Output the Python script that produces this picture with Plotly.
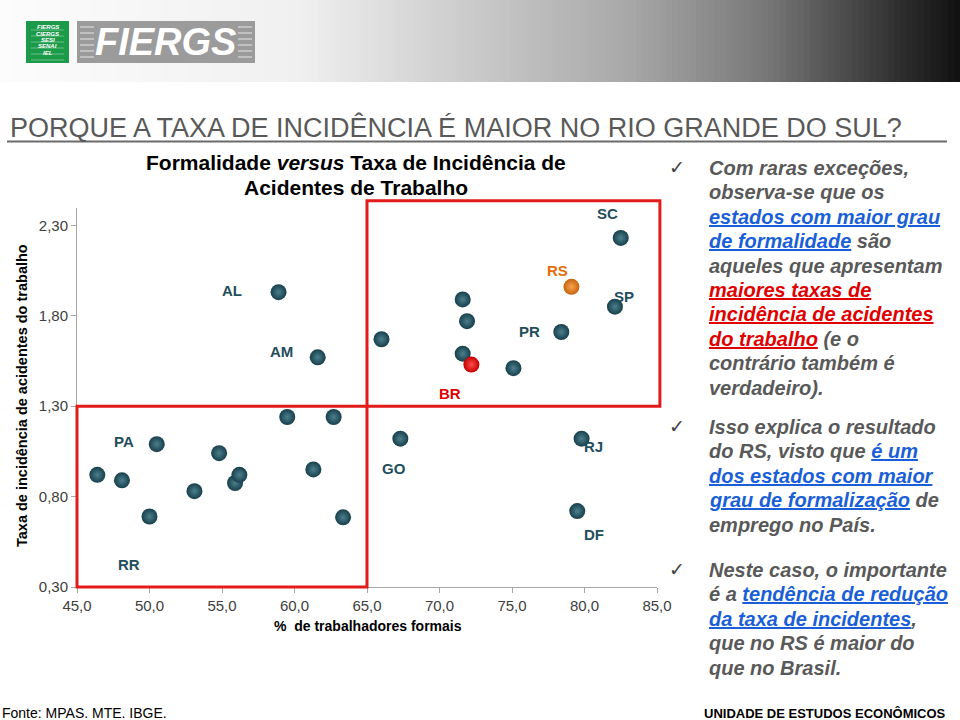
import plotly.graph_objects as go

# ---------------- data ----------------
labels = ["AL", "AM", "PA", "RR", "GO", "RJ", "DF", "SC", "RS", "SP", "PR", "BR",
          "", "", "", "", "", "", "", "", "", "", "", "", "", "", ""]
pct_formal = [58.9, 61.6, 50.5, 50.0, 67.3, 79.8, 79.5, 82.5, 79.1, 82.1, 78.4, 72.2,
              59.5, 62.7, 46.4, 48.1, 53.1, 54.8, 55.9, 56.2, 61.3, 63.35, 71.6, 71.9, 66.0, 71.6, 75.1]
taxa_acid = [1.93, 1.57, 1.09, 0.69, 1.12, 1.12, 0.72, 2.23, 1.96, 1.85, 1.71, 1.53,
             1.24, 1.24, 0.92, 0.89, 0.83, 1.04, 0.875, 0.92, 0.95, 0.685, 1.89, 1.77, 1.67, 1.59, 1.51]
x_ticks = [45, 50, 55, 60, 65, 70, 75, 80, 85]
y_ticks = [0.30, 0.80, 1.30, 1.80, 2.30]
x_split = 65.0
y_split = 1.30

# ---------------- styling ----------------
W, H = 960, 720
L, R, T, B = 77, 657, 208, 587
X_RANGE = [45, 85]
Y_RANGE = [0.30, 0.30 + (B - T) / 180.85]

def px(x):
    return (x - L) / (R - L)

def py(y):
    return (B - y) / (B - T)

def dx2p(v):
    return (v - X_RANGE[0]) / (X_RANGE[1] - X_RANGE[0])

def dy2p(v):
    return (v - Y_RANGE[0]) / (Y_RANGE[1] - Y_RANGE[0])

TEAL = "#1f4e5c"
label_shift = {"AL": (-47, 2), "AM": (-36, 6), "PA": (-33, 3), "RR": (-21, -48),
               "GO": (-6, -30), "RJ": (12, -8), "DF": (17, -23), "SC": (-13, 24),
               "RS": (-14, 16), "SP": (9, 10), "PR": (-32, 1), "BR": (-21, -29)}
label_color = {"RS": "#e46c0a", "BR": "#e00000"}

fig = go.Figure()

def sel(cond):
    idx = [i for i, lb in enumerate(labels) if cond(lb)]
    return [pct_formal[i] for i in idx], [taxa_acid[i] for i in idx]

xs, ys = sel(lambda lb: lb not in ("RS", "BR"))
fig.add_trace(go.Scatter(x=xs, y=ys, mode="markers", hoverinfo="x+y",
                         marker=dict(size=16, color="#163f4b", line=dict(width=0),
                                     gradient=dict(type="radial", color="#4d7f8d"))))
xs, ys = sel(lambda lb: lb == "RS")
fig.add_trace(go.Scatter(x=xs, y=ys, mode="markers",
                         marker=dict(size=16, color="#c8620a", line=dict(width=0),
                                     gradient=dict(type="radial", color="#f6a552"))))
xs, ys = sel(lambda lb: lb == "BR")
fig.add_trace(go.Scatter(x=xs, y=ys, mode="markers",
                         marker=dict(size=16, color="#c40000", line=dict(width=0),
                                     gradient=dict(type="radial", color="#ff4d4d"))))

ann = []
for lb, xv, yv in zip(labels, pct_formal, taxa_acid):
    if not lb:
        continue
    dx, dy = label_shift[lb]
    ann.append(dict(x=xv, y=yv, xref="x", yref="y", text="<b>%s</b>" % lb, showarrow=False,
                    xshift=dx, yshift=dy,
                    font=dict(family="Liberation Sans, Arial", size=15, color=label_color.get(lb, TEAL))))

shapes = []
# header gradient band
anchors = [(0, 252), (300, 240), (629, 168), (760, 122), (892, 51), (960, 16)]
def grey(x):
    for (x0, g0), (x1, g1) in zip(anchors[:-1], anchors[1:]):
        if x0 <= x <= x1:
            return int(round(g0 + (g1 - g0) * (x - x0) / (x1 - x0)))
    return anchors[-1][1]
step = 6
for x0 in range(0, W, step):
    g = grey(x0 + step / 2)
    c = "rgb(%d,%d,%d)" % (g, g, g)
    shapes.append(dict(type="rect", xref="paper", yref="paper", x0=px(x0), x1=px(x0 + step + 0.5),
                       y0=py(82), y1=py(0), fillcolor=c, line=dict(width=0), layer="below"))
# logo
shapes.append(dict(type="rect", xref="paper", yref="paper", x0=px(26), x1=px(69), y0=py(63), y1=py(21),
                   fillcolor="#1b9a4a", line=dict(width=0)))
shapes.append(dict(type="rect", xref="paper", yref="paper", x0=px(77), x1=px(255), y0=py(63), y1=py(21),
                   fillcolor="#9b9b9b", line=dict(width=0)))
for yy in [27, 33, 39, 45, 51, 57]:
    for a, b in [(80, 94), (238, 252)]:
        shapes.append(dict(type="line", xref="paper", yref="paper", x0=px(a), x1=px(b), y0=py(yy), y1=py(yy),
                           line=dict(color="#e6e6e6", width=1)))
for yy in [30, 36, 42, 48, 54, 60]:
    shapes.append(dict(type="line", xref="paper", yref="paper", x0=px(31), x1=px(64), y0=py(yy), y1=py(yy),
                       line=dict(color="#9fd8b0", width=0.6)))
# heading underline
shapes.append(dict(type="line", xref="paper", yref="paper", x0=px(7), x1=px(947), y0=py(141.5), y1=py(141.5),
                   line=dict(color="#6b6b6b", width=2)))
# red quadrant boxes (paper refs so they are not clipped by the plot area)
RED = "#e41b1b"
shapes.append(dict(type="rect", xref="paper", yref="paper", x0=dx2p(X_RANGE[0]), x1=dx2p(x_split),
                   y0=dy2p(Y_RANGE[0]), y1=dy2p(y_split), line=dict(color=RED, width=3), layer="above"))
shapes.append(dict(type="rect", xref="paper", yref="paper", x0=dx2p(x_split), x1=dx2p(X_RANGE[1] + 0.2),
                   y0=dy2p(y_split), y1=dy2p(Y_RANGE[1] + 0.04), line=dict(color=RED, width=3), layer="above"))

def text(xp, yp, s, size, color="#000", anchor="left", family="Liberation Sans, Arial", weight="normal",
         style="normal", angle=0):
    ann.append(dict(x=px(xp), y=py(yp), xref="paper", yref="paper", text=s, showarrow=False,
                    xanchor=anchor, yanchor="middle", textangle=angle,
                    font=dict(family=family, size=size, color=color, weight=weight, style=style)))

# logo texts
text(165, 42, "FIERGS", 38, "#ffffff", "center", weight="bold", style="italic")
for i, t in enumerate(["FIERGS", "CIERGS", "SESI", "SENAI", "IEL"]):
    text(47.5, 27 + i * 6.5, t, 6, "#ffffff", "center", weight="bold", style="italic")

# heading
text(8, 128, "PORQUE A TAXA DE INCIDÊNCIA É MAIOR NO RIO GRANDE DO SUL?", 27, "#595959")
# chart title
text(356, 162, "Formalidade <i>versus</i> Taxa de Incidência de", 21, "#000000", "center", weight="bold")
text(356, 188, "Acidentes de Trabalho", 21, "#000000", "center", weight="bold")
# axis titles
text(368, 626, "%  de trabalhadores formais", 14, "#000000", "center", weight="bold")
text(22, 396, "Taxa de incidência de acidentes do trabalho", 14.5, "#000000", "center", weight="bold", angle=-90)

# right side text
GR = "#595959"
def blue(s):
    return "<span style='color:#1a5fd8'><u>%s</u></span>" % s
def red(s):
    return "<span style='color:#e00000'><u>%s</u></span>" % s

blocks = [
    (168, ["Com raras exceções,", "observa-se que os", blue("estados com maior grau"),
           blue("de formalidade") + " são", "aqueles que apresentam", red("maiores taxas de"),
           red("incidência de acidentes"), red("do trabalho") + " (e o", "contrário também é",
           "verdadeiro)."]),
    (427, ["Isso explica o resultado", "do RS, visto que " + blue("é um"), blue("dos estados com maior"),
           blue("grau de formalização") + " de", "emprego no País."]),
    (570, ["Neste caso, o importante", "é a " + blue("tendência de redução"),
           blue("da taxa de incidentes") + ",", "que no RS é maior do", "que no Brasil."]),
]
for y0, lines in blocks:
    text(677, y0 - 1, "✓", 19, "#404040", "center", family="DejaVu Sans")
    for k, s in enumerate(lines):
        text(707, y0 + k * 24.4, s, 20, GR, weight="bold", style="italic")

# footer
text(0, 713, "Fonte: MPAS. MTE. IBGE.", 14, "#000000")
text(948, 713, "UNIDADE DE ESTUDOS ECONÔMICOS", 13, "#000000", "right", weight="bold")

axis_common = dict(showgrid=False, zeroline=False, showline=True, linecolor="#a6a6a6", linewidth=1,
                   ticks="outside", ticklen=5, tickcolor="#a6a6a6",
                   tickfont=dict(family="Liberation Sans, Arial", size=15, color="#404040"))
fig.update_layout(
    width=W, height=H, showlegend=False,
    margin=dict(l=L, r=W - R, t=T, b=H - B, pad=0),
    paper_bgcolor="white", plot_bgcolor="white",
    separators=",.",
    xaxis=dict(range=X_RANGE, tickvals=x_ticks, tickformat=".1f", **axis_common),
    yaxis=dict(range=Y_RANGE, tickvals=y_ticks, tickformat=".2f", **axis_common),
    shapes=shapes, annotations=ann,
)

fig.write_html("out.html", config={"displayModeBar": False},
               post_script="document.body.style.margin='0';document.body.style.overflow='hidden';")
